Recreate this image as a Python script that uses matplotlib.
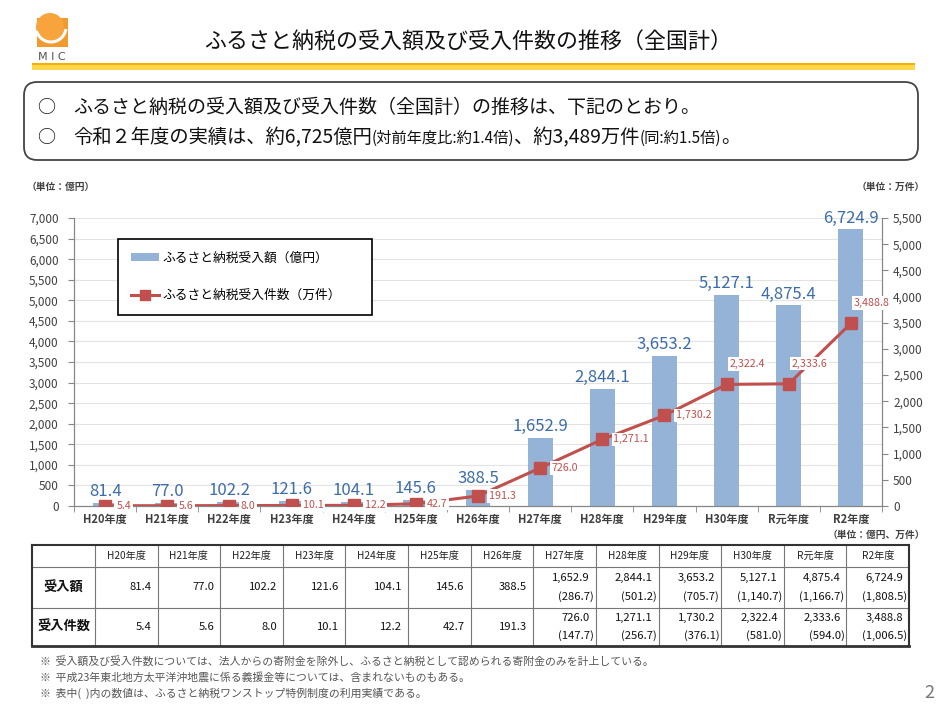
import matplotlib
matplotlib.use('Agg')
import matplotlib.pyplot as plt
from matplotlib.patches import Rectangle, FancyBboxPatch, Patch, Ellipse, Arc
from matplotlib.lines import Line2D
import numpy as np

plt.rcParams['font.family'] = ['Noto Sans CJK JP', 'DejaVu Sans']

# ---------------- data ----------------
categories = ['H20年度', 'H21年度', 'H22年度', 'H23年度', 'H24年度', 'H25年度', 'H26年度',
              'H27年度', 'H28年度', 'H29年度', 'H30年度', 'R元年度', 'R2年度']
amount = [81.4, 77.0, 102.2, 121.6, 104.1, 145.6, 388.5,
          1652.9, 2844.1, 3653.2, 5127.1, 4875.4, 6724.9]
count = [5.4, 5.6, 8.0, 10.1, 12.2, 42.7, 191.3,
         726.0, 1271.1, 1730.2, 2322.4, 2333.6, 3488.8]
onestop_amount = [None] * 7 + [286.7, 501.2, 705.7, 1140.7, 1166.7, 1808.5]
onestop_count = [None] * 7 + [147.7, 256.7, 376.1, 581.0, 594.0, 1006.5]
left_ticks = list(range(0, 7001, 500))
right_ticks = list(range(0, 5501, 500))
legend_labels = ['ふるさと納税受入額（億円）', 'ふるさと納税受入件数（万件）']
row_labels = ['受入額', '受入件数']
title = 'ふるさと納税の受入額及び受入件数の推移（全国計）'
footnotes = ['※  受入額及び受入件数については、法人からの寄附金を除外し、ふるさと納税として認められる寄附金のみを計上している。',
             '※  平成23年東北地方太平洋沖地震に係る義援金等については、含まれないものもある。',
             '※  表中(  )内の数値は、ふるさと納税ワンストップ特例制度の利用実績である。']

BAR = '#95B3D7'
RED = '#C0504D'
BLUE_TXT = '#3C6CAA'
GRAY = '#868686'
TXT = '#404040'

W, H = 945, 723
fig = plt.figure(figsize=(W / 100, H / 100), dpi=100)
fig.patch.set_facecolor('white')


def fx(x):
    return x / W


def fy(y):
    return 1 - y / H


# ---------------- header ----------------
# logo
fig.add_artist(Rectangle((fx(37), fy(47)), 31 / W, 29 / H, transform=fig.transFigure,
                         facecolor='#F39A2E', edgecolor='none'))
fig.add_artist(Ellipse((fx(50), fy(27)), 28 / W, 28 / H, transform=fig.transFigure,
                       facecolor='#F7A43C', edgecolor='none'))
fig.add_artist(Arc((fx(51), fy(27)), 30 / W, 30 / H, theta1=200, theta2=350,
                   transform=fig.transFigure, color='white', lw=2.2))
fig.text(fx(52), fy(57), 'M I C', fontsize=8, color='#555555', ha='center', va='center',
         family=['DejaVu Sans'])
# title underline
fig.add_artist(Rectangle((fx(32), fy(65)), (915 - 32) / W, 2.5 / H, transform=fig.transFigure,
                         facecolor='#F4B000', edgecolor='none'))
fig.add_artist(Rectangle((fx(32), fy(70)), (915 - 32) / W, 5 / H, transform=fig.transFigure,
                         facecolor='#FFD54A', edgecolor='none'))
fig.text(fx(468), fy(43), title, fontsize=15.8, ha='center', va='center', color='#111111')

# rounded summary box
fig.add_artist(FancyBboxPatch((fx(24), fy(160)), (918 - 24) / W, (160 - 82) / H,
                              boxstyle='round,pad=0,rounding_size=0.014',
                              transform=fig.transFigure, facecolor='white',
                              edgecolor='#444444', linewidth=1.3, mutation_aspect=W / H))

renderer = fig.canvas.get_renderer()


def seq_text(x, y, segs):
    cur = x
    for s, size in segs:
        t = fig.text(fx(cur), fy(y), s, fontsize=size, ha='left', va='baseline', color='#111111')
        bb = t.get_window_extent(renderer)
        cur = bb.x1


fig.text(fx(46), fy(113), '○', fontsize=13, ha='center', va='baseline', color='#111111')
fig.text(fx(46), fy(143), '○', fontsize=13, ha='center', va='baseline', color='#111111')
seq_text(73, 113, [('ふるさと納税の受入額及び受入件数（全国計）の推移は、下記のとおり。', 13.7)])
seq_text(73, 143, [('令和２年度の実績は、約6,725億円', 13.9), ('(対前年度比:約1.4倍)', 11),
                   ('、約3,489万件', 13.9), ('(同:約1.5倍)', 11), ('。', 13.9)])

# ---------------- chart ----------------
ax = fig.add_axes([fx(74), fy(506), (882 - 74) / W, (506 - 218) / H])
x = np.arange(len(categories))
ax.bar(x, amount, width=0.4, color=BAR, zorder=2)
ax.set_xlim(-0.5, len(categories) - 0.5)
ax.set_ylim(0, 7000)
ax.set_yticks(left_ticks)
ax.set_yticklabels([f'{v:,}' for v in left_ticks])
ax.yaxis.grid(True, color='#E3E3E3', lw=0.8)
ax.set_axisbelow(True)
ax.set_xticks(x)
ax.set_xticklabels(categories, fontsize=8, fontweight='bold', color=TXT)
ax.set_xticks(np.arange(-0.5, len(categories), 1), minor=True)
ax.tick_params(axis='x', which='major', length=0, pad=5)
ax.tick_params(axis='x', which='minor', length=4, color=GRAY)
ax.tick_params(axis='y', length=4, color=GRAY, labelsize=8.5, labelcolor=TXT, pad=7)
for s in ['left', 'bottom', 'right']:
    ax.spines[s].set_color(GRAY)
ax.spines['top'].set_visible(False)

for i, v in enumerate(amount):
    ax.annotate(f'{v:,.1f}', (i, v), xytext=(0, 2), textcoords='offset points',
                ha='center', va='bottom', fontsize=12, color=BLUE_TXT)

ax2 = ax.twinx()
ax2.plot(x, count, color=RED, lw=2.2, marker='s', ms=8, zorder=3)
ax2.set_ylim(0, 5500)
ax2.set_yticks(right_ticks)
ax2.set_yticklabels([f'{v:,}' for v in right_ticks])
ax2.tick_params(axis='y', length=4, color=GRAY, labelsize=8.5, labelcolor=TXT, pad=4)
for s in ['left', 'bottom', 'right']:
    ax2.spines[s].set_color(GRAY)
ax2.spines['top'].set_visible(False)

for i, v in enumerate(count):
    if i >= 10:
        off, va = (2, 11), 'bottom'
    else:
        off, va = (8, 0), 'center'
    ax2.annotate(f'{v:,.1f}', (i, v), xytext=off, textcoords='offset points',
                 ha='left', va=va, fontsize=7.7, color=RED, zorder=5,
                 bbox=dict(facecolor='white', edgecolor='none', pad=1.2))

handles = [Patch(facecolor=BAR, edgecolor='none'),
           Line2D([], [], color=RED, lw=2.2, marker='s', ms=7)]
leg = ax2.legend(handles, legend_labels, loc='upper left',
                 bbox_to_anchor=((118 - 74) / 808, (506 - 239) / 288, (372 - 118) / 808, 0.0),
                 mode='expand', borderaxespad=0, fontsize=9.2, frameon=True, fancybox=False,
                 edgecolor='black', framealpha=1, borderpad=1.0, labelspacing=1.9,
                 handlelength=2.2, handletextpad=0.3, handleheight=0.6)
leg.get_frame().set_linewidth(1.2)

fig.text(fx(27), fy(187), '（単位：億円）', fontsize=7, ha='left', va='center', color=TXT,
         fontweight='bold')
fig.text(fx(925), fy(187), '（単位：万件）', fontsize=7, ha='right', va='center', color=TXT,
         fontweight='bold')
fig.text(fx(925), fy(535), '（単位：億円、万件）', fontsize=7, ha='right', va='center', color=TXT,
         fontweight='bold')

# ---------------- table ----------------
tl, tr = 32, 909
c0 = 95
cw = (tr - c0) / len(categories)
col_edges = [tl] + [c0 + k * cw for k in range(len(categories) + 1)]
rows_y = [545, 567, 608, 646]


def hline(y, x0, x1, lw=0.8, color='#777777'):
    fig.add_artist(Line2D([fx(x0), fx(x1)], [fy(y), fy(y)], transform=fig.transFigure,
                          lw=lw, color=color))


def vline(x_, y0, y1, lw=0.8, color='#777777'):
    fig.add_artist(Line2D([fx(x_), fx(x_)], [fy(y0), fy(y1)], transform=fig.transFigure,
                          lw=lw, color=color))


for yy in rows_y[1:-1]:
    hline(yy, tl, tr)
for xx in col_edges[1:-1]:
    vline(xx, rows_y[0], rows_y[-1])
hline(rows_y[0], tl, tr, lw=1.5, color='#333333')
hline(rows_y[-1], tl, tr, lw=2.0, color='#333333')
vline(tl, rows_y[0], rows_y[-1], lw=1.5, color='#333333')
vline(tr, rows_y[0], rows_y[-1], lw=1.5, color='#333333')

for k, cat in enumerate(categories):
    cx = (col_edges[k + 1] + col_edges[k + 2]) / 2
    fig.text(fx(cx), fy(556), cat, fontsize=7.3, ha='center', va='center', color='#222222')

for r, lab in enumerate(row_labels):
    cy = (rows_y[r + 1] + rows_y[r + 2]) / 2
    fig.text(fx((tl + c0) / 2), fy(cy), lab, fontsize=9.5, fontweight='bold',
             ha='center', va='center', color='#111111')

for k in range(len(categories)):
    right = col_edges[k + 2]
    for r, (vals, extra) in enumerate([(amount, onestop_amount), (count, onestop_count)]):
        top, bot = rows_y[r + 1], rows_y[r + 2]
        if extra[k] is None:
            fig.text(fx(right - 6), fy((top + bot) / 2), f'{vals[k]:,.1f}', fontsize=8.1,
                     ha='right', va='center', color='#111111')
        else:
            h = bot - top
            fig.text(fx(right - 6), fy(top + h * 0.27), f'{vals[k]:,.1f}', fontsize=8.1,
                     ha='right', va='center', color='#111111')
            fig.text(fx(right - 2), fy(top + h * 0.72), f'({extra[k]:,.1f})', fontsize=8.1,
                     ha='right', va='center', color='#111111')

# ---------------- footnotes ----------------
for j, note in enumerate(footnotes):
    fig.text(fx(40), fy(662 + j * 15.5), note, fontsize=7.8, ha='left', va='center',
             color='#555555')
fig.text(fx(929), fy(693), '2', fontsize=13, ha='center', va='center', color='#777777')

fig.savefig('out.png', dpi=100, facecolor='white')
